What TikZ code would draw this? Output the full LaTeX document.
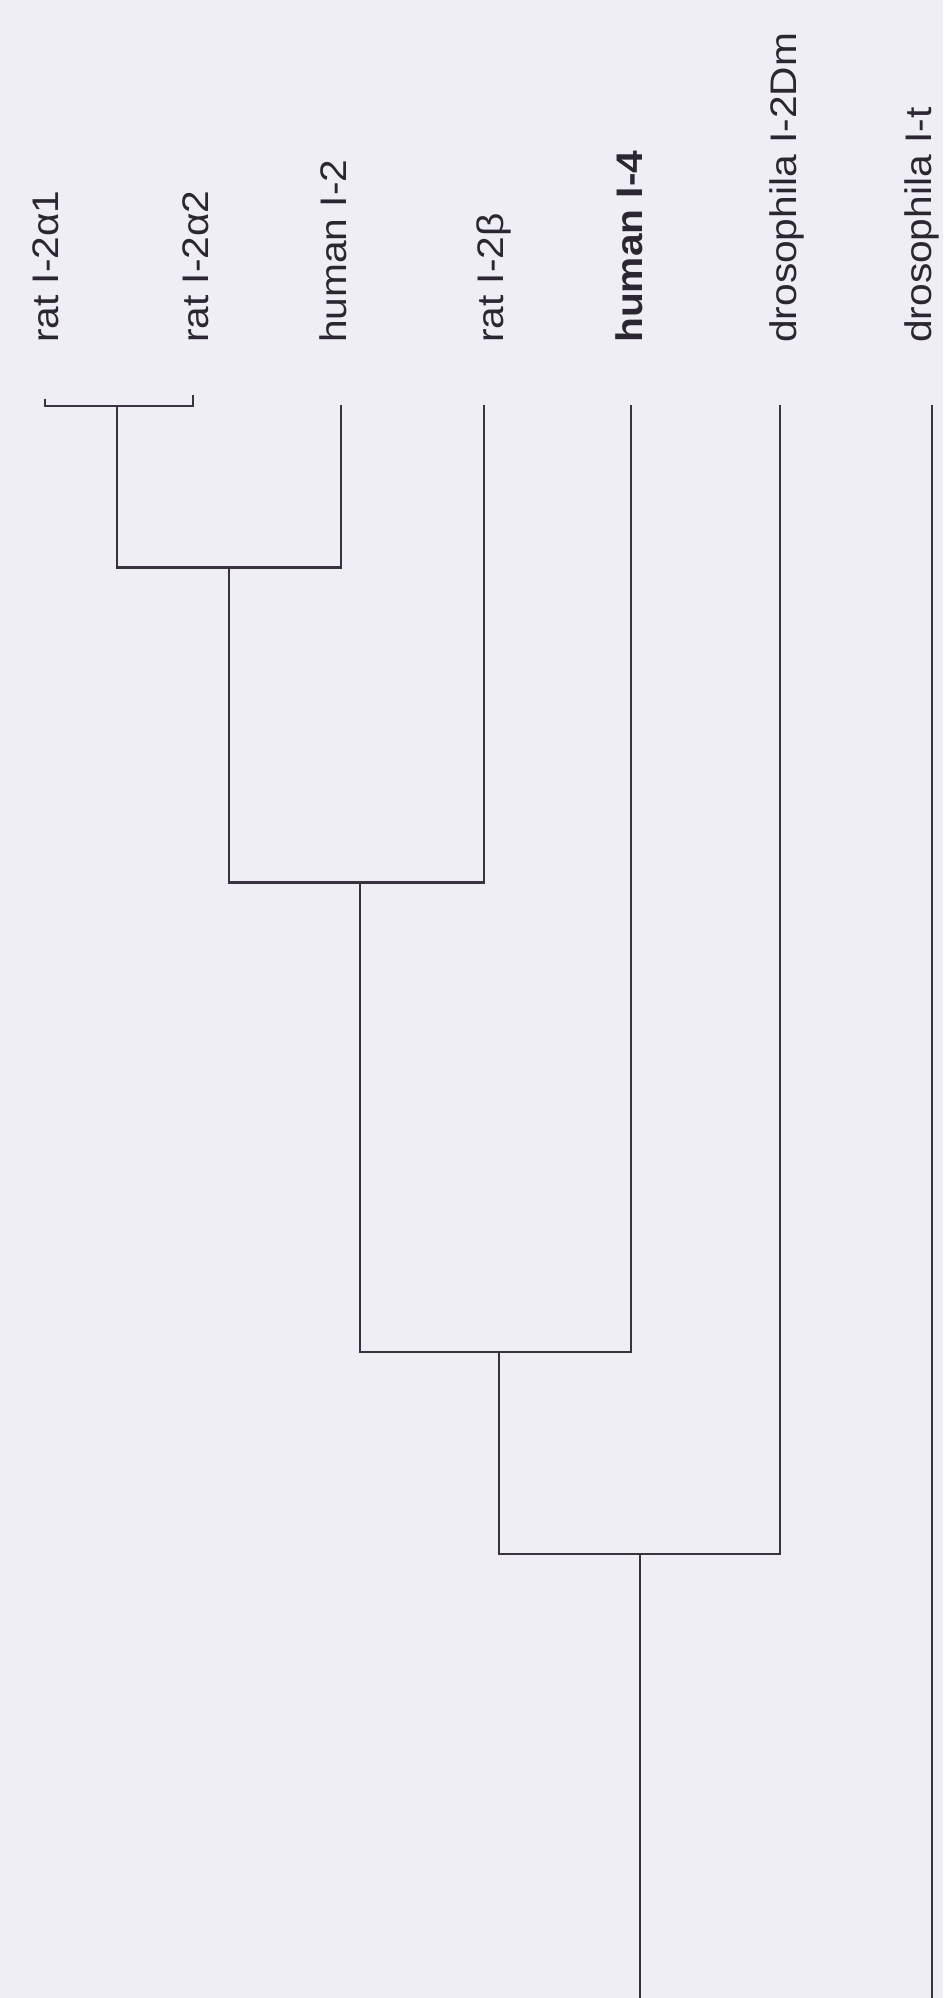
\documentclass[tikz,border=0pt]{standalone}
\usepackage{fontspec}
\usepackage{graphicx}
\setmainfont{Liberation Sans}
\definecolor{bgc}{HTML}{EFEEF4}
\definecolor{linec}{HTML}{3A3240}
\definecolor{textc}{HTML}{2B2632}
\newcommand{\lbl}[1]{\scalebox{1.1}[1]{\fontsize{37}{44}\selectfont #1}}
\begin{document}
\begin{tikzpicture}[x=1pt,y=-1pt,
  branch/.style={draw=linec,line width=2.6pt,line join=miter},
  leaflabel/.style={rotate=90,anchor=base west,inner sep=0pt,text=textc}]
\useasboundingbox (0,0) rectangle (943,1998);
\fill[bgc] (0,0) rectangle (943,1998);
% leaf tops
\coordinate (t1) at (45,399);
\coordinate (t2) at (193,395);
\coordinate (t3) at (341,405);
\coordinate (t4) at (484,405);
\coordinate (t5) at (631,405);
\coordinate (t6) at (780,405);
\coordinate (t7) at (932,405);
% internal nodes
\coordinate (nA) at (117,406);
\coordinate (nB) at (229,567.5);
\coordinate (nC) at (360,882.5);
\coordinate (nD) at (499,1352);
\coordinate (nE) at (640,1554);
\coordinate (root) at (640,1998);
\coordinate (b7) at (932,1998);
% labels
\node[leaflabel] (l1) at (58,343) {\lbl{rat I-2α1}};
\node[leaflabel] (l2) at (208,343) {\lbl{rat I-2α2}};
\node[leaflabel] (l3) at (346,343) {\lbl{human I-2}};
\node[leaflabel] (l4) at (503,343) {\lbl{rat I-2β}};
\node[leaflabel] (l5) at (642,343) {\lbl{\bfseries human I-4}};
\node[leaflabel] (l6) at (796,343) {\lbl{drosophila I-2Dm}};
\node[leaflabel] (l7) at (931,343) {\lbl{drosophila I-t}};
% tree
\draw[branch] (t1) |- (nA) -| (t2);
\draw[branch] (nA) |- (nB);
\draw[branch] (t3) |- (nB);
\draw[branch] (nB) |- (nC);
\draw[branch] (t4) |- (nC);
\draw[branch] (nC) |- (nD);
\draw[branch] (t5) |- (nD);
\draw[branch] (nD) |- (nE);
\draw[branch] (t6) |- (nE);
\draw[branch] (nE) -- (root);
\draw[branch] (t7) -- (b7);
\end{tikzpicture}
\end{document}
